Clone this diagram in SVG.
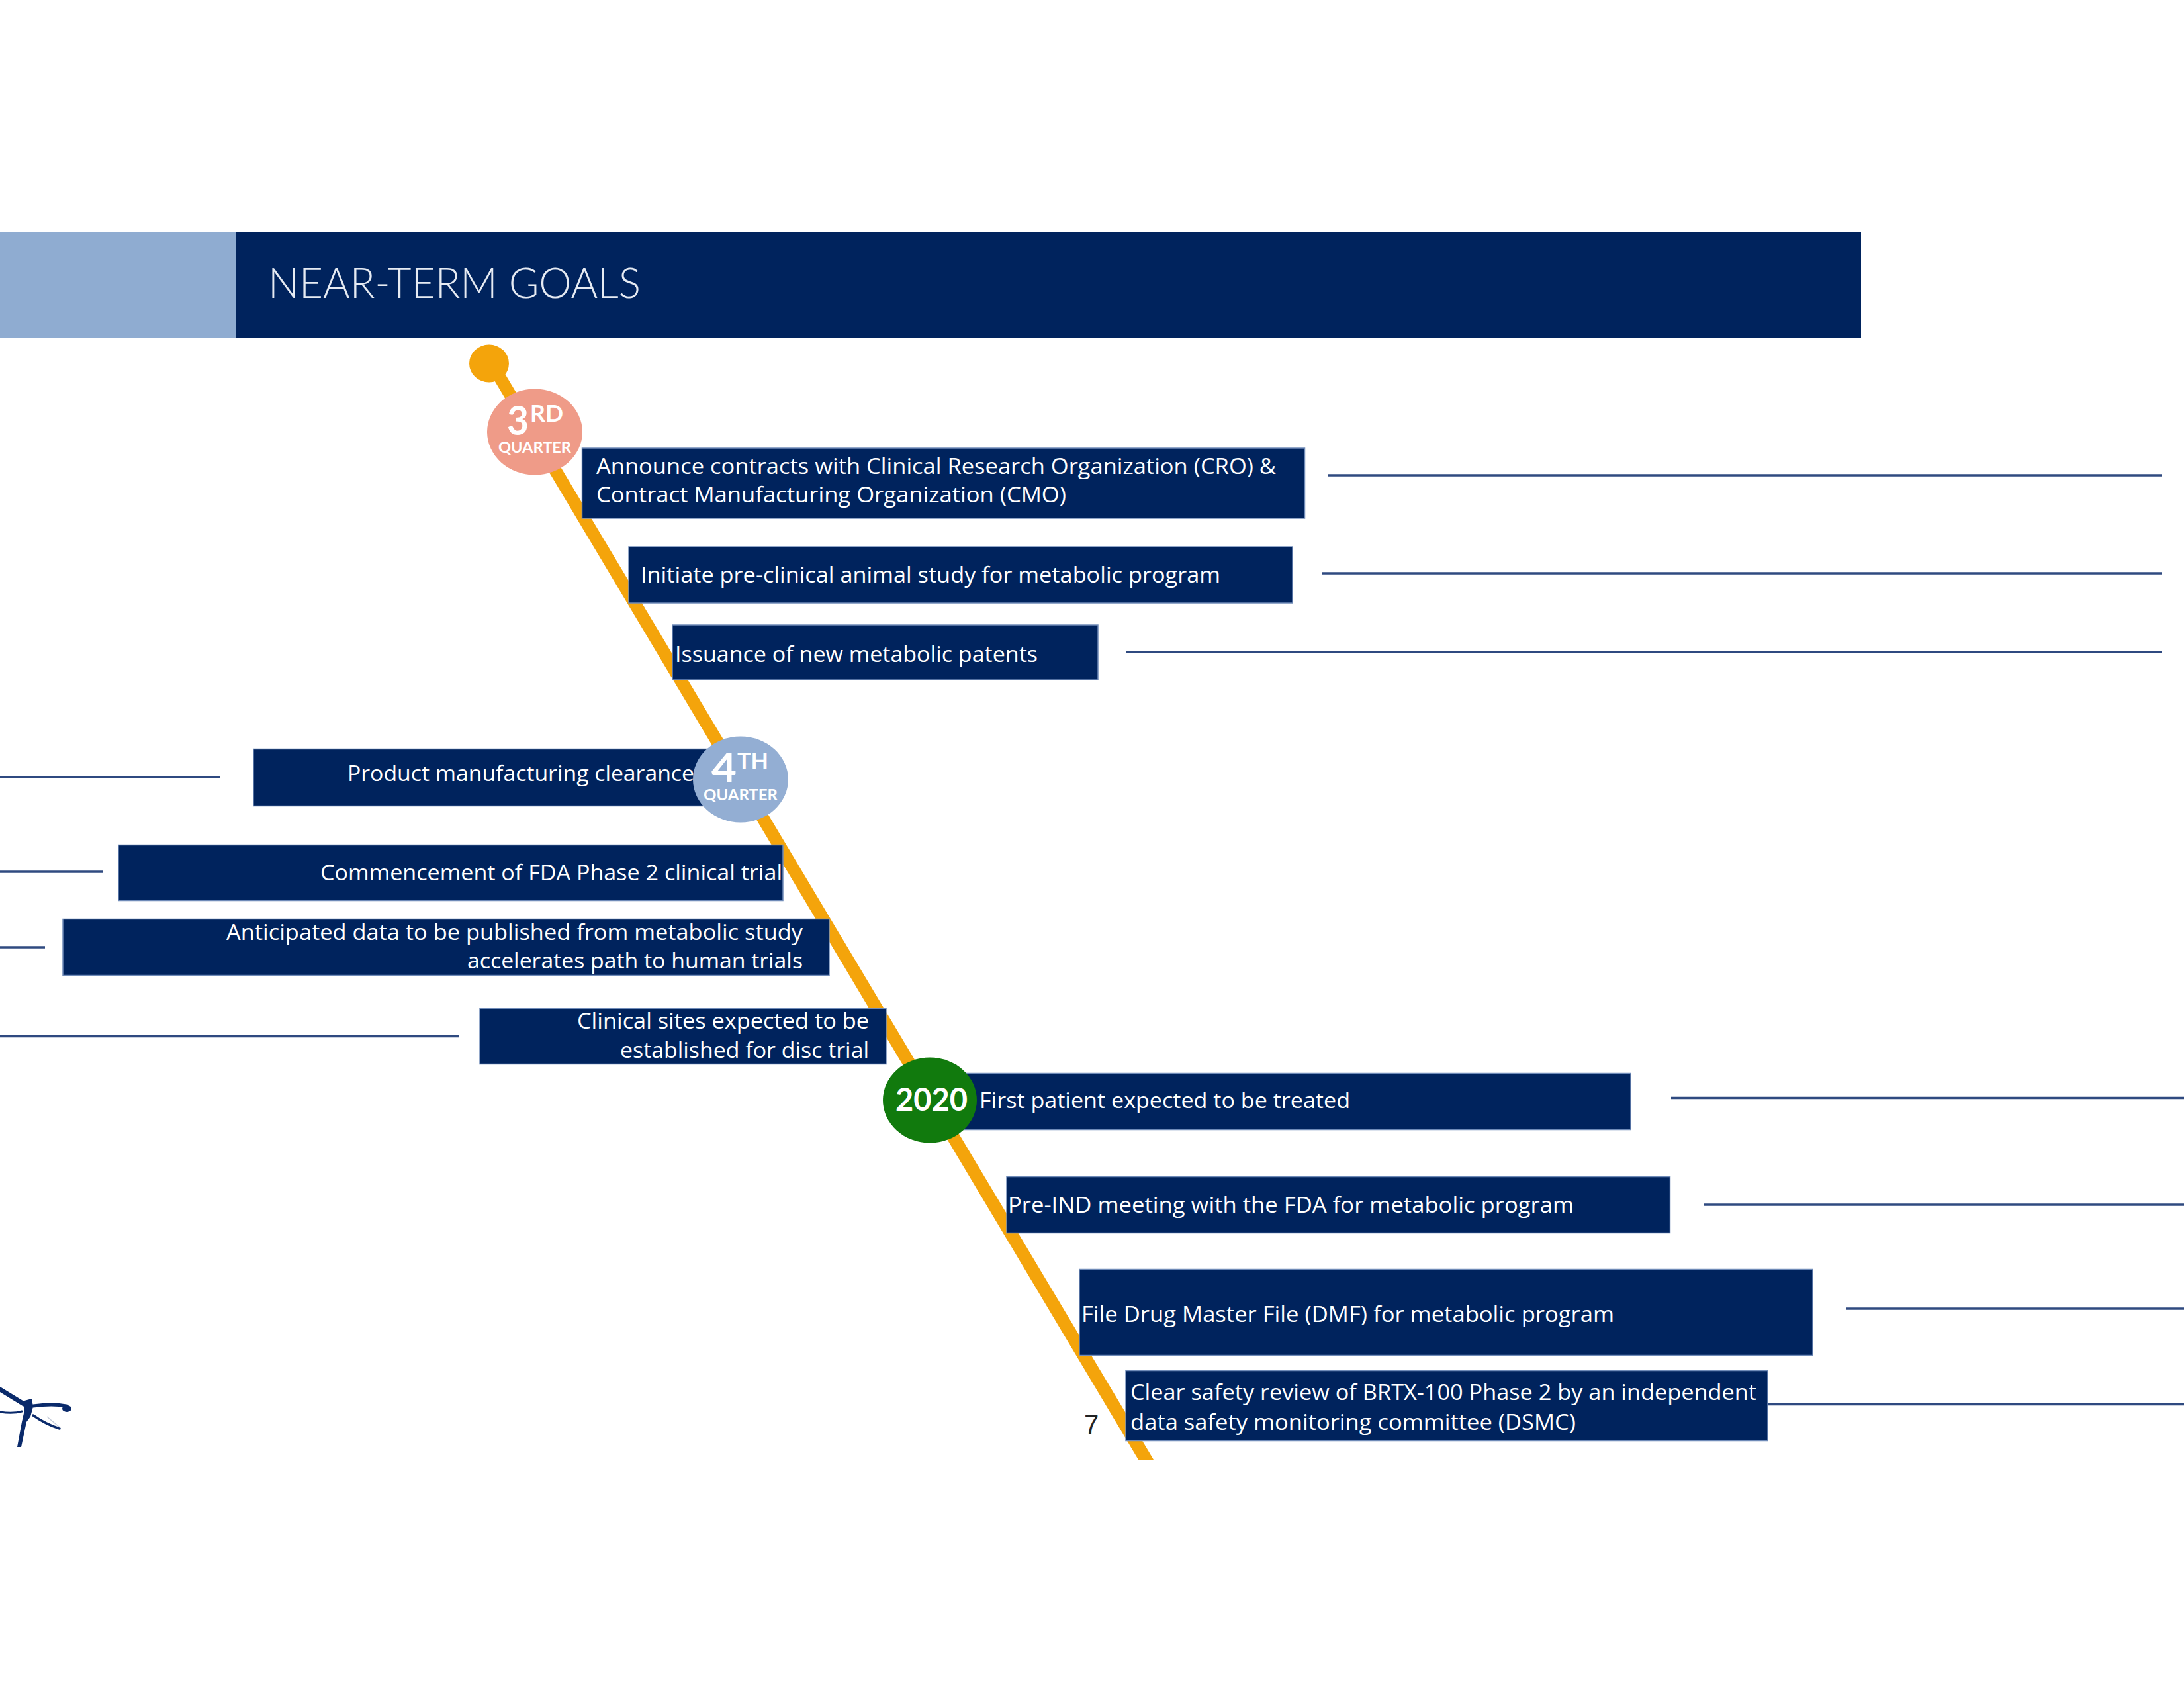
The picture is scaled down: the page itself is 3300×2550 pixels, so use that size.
<svg xmlns="http://www.w3.org/2000/svg" width="3300" height="2550" viewBox="0 0 3300 2550">
<style>
.box{fill:#00235d;stroke:#6f8bb8;stroke-width:1.5}
.t{font-family:"Open Sans","Noto Sans",sans-serif;font-size:33.5px;fill:#fff}
.l{stroke:#2f4a80;stroke-width:3.5;fill:none}
.q{font-family:Lato,"Open Sans",sans-serif;font-weight:700;fill:#fff}
.d{fill:none;stroke:#0a2a6b;stroke-linecap:round}
</style>
<rect width="3300" height="2550" fill="#fff"/>
<g id="header">
<rect x="0" y="350" width="357" height="160" fill="#8facd1"/>
<rect x="357" y="350" width="2455" height="160" fill="#00235d"/>
<text x="405" y="450" font-family="Lato,'Open Sans',sans-serif" font-weight="300" font-size="63" fill="#e6ebf3" textLength="563" lengthAdjust="spacingAndGlyphs">NEAR-TERM GOALS</text>
</g>
<g id="connectors">
<polygon id="spine" points="731,548 753,548 1743,2205 1720,2205" fill="#f4a40b"/>
<line class="l" x1="2006" y1="718" x2="3267" y2="718"/>
<line class="l" x1="1998" y1="866" x2="3267" y2="866"/>
<line class="l" x1="1701" y1="985" x2="3267" y2="985"/>
<line class="l" x1="0" y1="1174" x2="332" y2="1174"/>
<line class="l" x1="0" y1="1317" x2="155" y2="1317"/>
<line class="l" x1="0" y1="1431" x2="68" y2="1431"/>
<line class="l" x1="0" y1="1565.5" x2="693" y2="1565.5"/>
<line class="l" x1="2525" y1="1658.5" x2="3300" y2="1658.5"/>
<line class="l" x1="2574" y1="1820" x2="3300" y2="1820"/>
<line class="l" x1="2789" y1="1977" x2="3300" y2="1977"/>
<line class="l" x1="2670" y1="2121.5" x2="3300" y2="2121.5"/>
</g>
<g id="start"><ellipse cx="739" cy="549" rx="30" ry="28.5" fill="#f4a40b"/></g>
<g id="goal-cro">
<rect class="box" x="879.5" y="677" width="1092" height="106"/>
<text class="t" x="901" y="716" textLength="1027" lengthAdjust="spacingAndGlyphs">Announce contracts with Clinical Research Organization (CRO) &amp;</text>
<text class="t" x="901" y="759" textLength="710" lengthAdjust="spacingAndGlyphs">Contract Manufacturing Organization (CMO)</text>
</g>
<g id="goal-preclinical">
<rect class="box" x="950" y="826" width="1003" height="85"/>
<text class="t" x="968" y="880" textLength="876" lengthAdjust="spacingAndGlyphs">Initiate pre-clinical animal study for metabolic program</text>
</g>
<g id="goal-patents">
<rect class="box" x="1016" y="944" width="643" height="83"/>
<text class="t" x="1020" y="1000" textLength="548" lengthAdjust="spacingAndGlyphs">Issuance of new metabolic patents</text>
</g>
<g id="goal-clearance" transform="translate(0,1.5)">
<rect class="box" x="383" y="1130" width="720" height="86"/>
<text class="t" x="525" y="1178" textLength="524" lengthAdjust="spacingAndGlyphs">Product manufacturing clearance</text>
</g>
<g id="goal-phase2" transform="translate(0,1.5)">
<rect class="box" x="179" y="1275" width="1004" height="84"/>
<text class="t" x="484" y="1328" textLength="698" lengthAdjust="spacingAndGlyphs">Commencement of FDA Phase 2 clinical trial</text>
</g>
<g id="goal-data" transform="translate(0,1.5)">
<rect class="box" x="95" y="1387" width="1158" height="85"/>
<text class="t" x="342" y="1418" textLength="871" lengthAdjust="spacingAndGlyphs">Anticipated data to be published from metabolic study</text>
<text class="t" x="706" y="1461" textLength="507" lengthAdjust="spacingAndGlyphs">accelerates path to human trials</text>
</g>
<g id="goal-sites" transform="translate(0,1.5)">
<rect class="box" x="725" y="1522" width="614" height="84"/>
<text class="t" x="872" y="1552" textLength="441" lengthAdjust="spacingAndGlyphs">Clinical sites expected to be</text>
<text class="t" x="937" y="1596" textLength="376" lengthAdjust="spacingAndGlyphs">established for disc trial</text>
</g>
<g id="goal-patient" transform="translate(0,1.5)">
<rect class="box" x="1420" y="1620" width="1044" height="85"/>
<text class="t" x="1480" y="1672" textLength="560" lengthAdjust="spacingAndGlyphs">First patient expected to be treated</text>
</g>
<g id="goal-preind" transform="translate(0,1.5)">
<rect class="box" x="1521" y="1776" width="1002.5" height="85"/>
<text class="t" x="1523" y="1830" textLength="855" lengthAdjust="spacingAndGlyphs">Pre-IND meeting with the FDA for metabolic program</text>
</g>
<g id="goal-dmf" transform="translate(0,1.5)">
<rect class="box" x="1631" y="1916" width="1108" height="130"/>
<text class="t" x="1634" y="1995" textLength="805" lengthAdjust="spacingAndGlyphs">File Drug Master File (DMF) for metabolic program</text>
</g>
<g id="goal-dsmc" transform="translate(0,1.5)">
<rect class="box" x="1701" y="2069" width="970" height="106"/>
<text class="t" x="1708" y="2113" textLength="946" lengthAdjust="spacingAndGlyphs">Clear safety review of BRTX-100 Phase 2 by an independent</text>
<text class="t" x="1708" y="2158" textLength="673" lengthAdjust="spacingAndGlyphs">data safety monitoring committee (DSMC)</text>
</g>
<g id="q3" transform="translate(0,1.5)">
<ellipse cx="808" cy="651" rx="72" ry="65" fill="#ef9b88"/>
<text class="q" x="766" y="655" font-size="61" textLength="33" lengthAdjust="spacingAndGlyphs">3</text>
<text class="q" x="801" y="635" font-size="34" font-weight="400" textLength="50" lengthAdjust="spacingAndGlyphs">RD</text>
<text class="q" x="753" y="682" font-size="23" textLength="110" lengthAdjust="spacingAndGlyphs">QUARTER</text>
</g>
<g id="q4" transform="translate(0,1.5)">
<ellipse cx="1119" cy="1176" rx="72" ry="65" fill="#93aed3"/>
<text class="q" x="1075" y="1180" font-size="61" textLength="38" lengthAdjust="spacingAndGlyphs">4</text>
<text class="q" x="1114" y="1160" font-size="34" font-weight="400" textLength="47" lengthAdjust="spacingAndGlyphs">TH</text>
<text class="q" x="1063" y="1207" font-size="23" textLength="112" lengthAdjust="spacingAndGlyphs">QUARTER</text>
</g>
<g id="y2020" transform="translate(0,1.5)">
<ellipse cx="1405" cy="1660.5" rx="71" ry="64.5" fill="#117a0d"/>
<text class="q" x="1353" y="1676" font-size="48" textLength="109" lengthAdjust="spacingAndGlyphs">2020</text>
</g>
<g id="page-number">
<text x="1638" y="2166" font-family="Liberation Sans,sans-serif" font-size="40" fill="#222">7</text>
</g>
<g id="logo">
<path class="d" stroke-width="7" d="M0,2099 L36,2121"/>
<path class="d" stroke-width="3" d="M0,2133 Q20,2136 33,2132"/>
<path d="M37,2116 L48,2113 L50,2125 L46,2140 L40,2148 L32,2186 L26,2186 L33,2148 L36,2135 Z" fill="#0a2a6b"/>
<path class="d" stroke-width="5" d="M50,2124 Q80,2120 100,2124"/>
<ellipse cx="101" cy="2128" rx="7" ry="5" fill="#0a2a6b"/>
<path class="d" stroke-width="3.5" d="M50,2138 Q70,2152 90,2158"/>
<path fill="none" stroke="#c3cad8" stroke-width="1.5" d="M71,2140 L90,2156"/>
</g>
</svg>
